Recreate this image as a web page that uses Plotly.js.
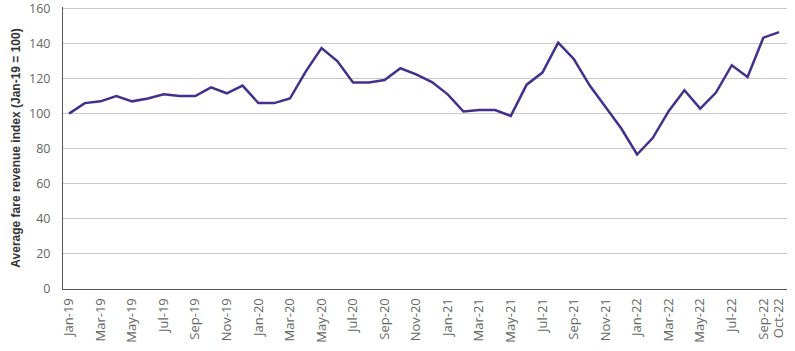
<!DOCTYPE html>
<html>
<head>
<meta charset="utf-8">
<script src="https://cdn.plot.ly/plotly-3.0.1.min.js"></script>
<style>html,body{margin:0;padding:0;background:#fff;}#chart{width:795px;height:351px;}</style>
</head>
<body>
<div id="chart"></div>
<script>
const months = [
  "Jan-19","Feb-19","Mar-19","Apr-19","May-19","Jun-19","Jul-19","Aug-19","Sep-19","Oct-19","Nov-19","Dec-19",
  "Jan-20","Feb-20","Mar-20","Apr-20","May-20","Jun-20","Jul-20","Aug-20","Sep-20","Oct-20","Nov-20","Dec-20",
  "Jan-21","Feb-21","Mar-21","Apr-21","May-21","Jun-21","Jul-21","Aug-21","Sep-21","Oct-21","Nov-21","Dec-21",
  "Jan-22","Feb-22","Mar-22","Apr-22","May-22","Jun-22","Jul-22","Aug-22","Sep-22","Oct-22"
];
const fareIndex = [
  100, 106, 107, 110, 107, 108.6, 111, 110, 110, 115, 111.6, 116,
  106, 106, 108.6, 124, 137.4, 130, 117.7, 117.7, 119.2, 125.9, 122.4, 118,
  111, 101.2, 102, 102, 98.7, 116.5, 123.4, 140.5, 131, 116, 103.8, 91.5,
  76.7, 86.2, 101.4, 113.3, 102.9, 112, 127.6, 120.9, 143.3, 146.5
];
const tickLabels = [
  "Jan-19","Mar-19","May-19","Jul-19","Sep-19","Nov-19",
  "Jan-20","Mar-20","May-20","Jul-20","Sep-20","Nov-20",
  "Jan-21","Mar-21","May-21","Jul-21","Sep-21","Nov-21",
  "Jan-22","Mar-22","May-22","Jul-22","Sep-22","Oct-22"
];
const yTicks = [0, 20, 40, 60, 80, 100, 120, 140, 160];

const tickFont = "'Open Sans', sans-serif";
const titleFont = "'Liberation Sans', Arial, sans-serif";
const trace = {
  x: months.map((m, i) => i),
  y: fareIndex,
  type: "scatter",
  mode: "lines",
  line: {color: "#44308c", width: 2.5},
  hoverinfo: "skip"
};
const layout = {
  width: 795, height: 351,
  margin: {l: 63, r: 8, t: 7, b: 62},
  paper_bgcolor: "#fff", plot_bgcolor: "#fff",
  showlegend: false,
  font: {family: tickFont, color: "#666", size: 12},
  xaxis: {
    range: [-0.38, 45.5],
    tickmode: "array",
    tickvals: tickLabels.map(t => months.indexOf(t)),
    ticktext: tickLabels,
    tickangle: -90,
    tickfont: {size: 13, color: "#666", family: tickFont},
    ticklabelstandoff: 3,
    showgrid: false,
    showline: true, linecolor: "#555", linewidth: 1,
    ticks: "", zeroline: false
  },
  yaxis: {
    range: [0, 160.8],
    tickmode: "array",
    tickvals: yTicks,
    tickfont: {size: 12.5, color: "#666", family: tickFont},
    ticklabelstandoff: 9,
    ticklabeloverflow: "allow",
    showgrid: true, gridcolor: "#c8c8c8", gridwidth: 1,
    showline: true, linecolor: "#555", linewidth: 1,
    ticks: "", zeroline: false,
    title: {text: "Average fare revenue index (Jan-19 = 100)", font: {size: 12, color: "#333", family: titleFont, weight: "bold"}, standoff: 5}
  }
};
Plotly.newPlot("chart", [trace], layout, {displayModeBar: false, staticPlot: true});
</script>
</body>
</html>
